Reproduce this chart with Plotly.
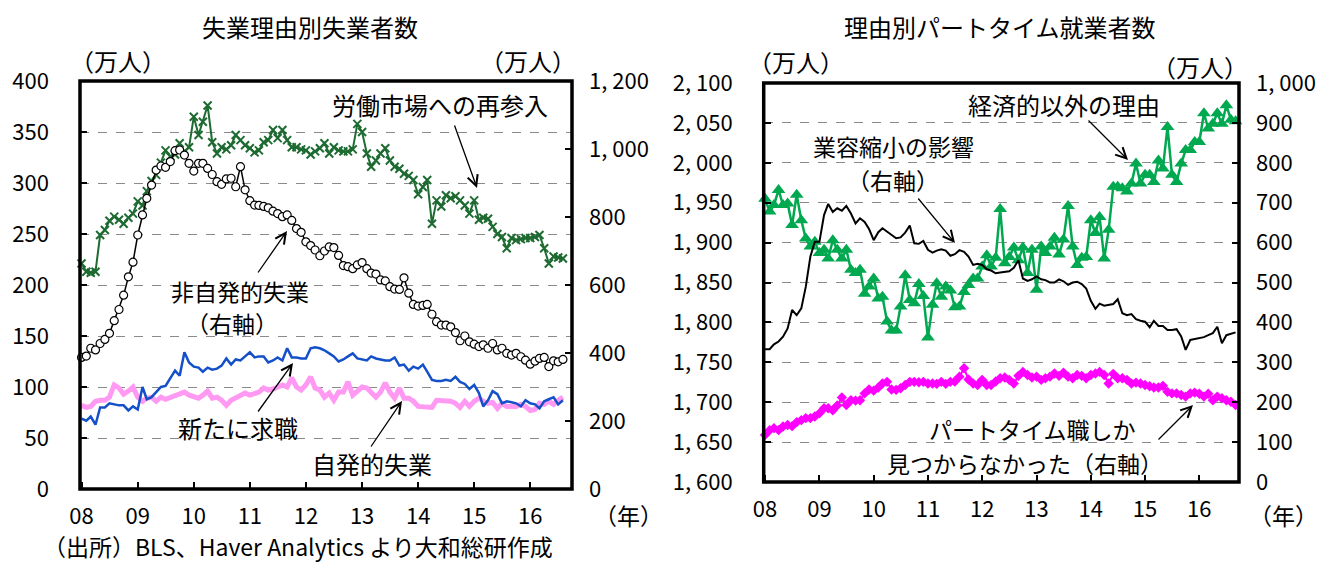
import pandas as pd
import plotly.graph_objects as go

# ---------------- data (monthly, from Jan 2008) ----------------
# Left panel: unemployed by reason (10,000 persons)
reentrants = [221, 213, 212, 213, 249, 254, 263, 267, 264, 260, 266, 270, 282, 278, 292, 302,
              308, 320, 332, 326, 328, 339, 331, 335, 365, 347, 360, 376, 340, 329, 335, 333,
              337, 347, 342, 337, 334, 330, 332, 340, 342, 352, 344, 352, 342, 335, 335, 333,
              332, 328, 331, 334, 339, 329, 335, 332, 331, 331, 333, 358, 350, 329, 316, 322,
              329, 334, 322, 316, 314, 309, 307, 303, 289, 296, 303, 260, 283, 277, 288, 285,
              287, 283, 278, 270, 283, 264, 266, 265, 257, 250, 247, 236, 246, 244, 245, 246,
              246, 247, 249, 236, 221, 228, 227, 226]
job_losers = [387, 391, 414, 409, 428, 440, 458, 495, 528, 570, 624, 667, 747, 806, 855, 894,
              938, 950, 946, 963, 995, 997, 982, 958, 935, 958, 958, 943, 925, 904, 896, 912,
              914, 889, 948, 880, 848, 835, 834, 831, 827, 817, 810, 801, 806, 790, 766, 755,
              727, 716, 703, 686, 700, 712, 710, 687, 657, 654, 648, 659, 666, 648, 635, 632,
              615, 612, 595, 588, 587, 621, 576, 543, 538, 540, 543, 514, 492, 482, 482, 477,
              460, 436, 450, 433, 426, 419, 424, 414, 428, 409, 414, 399, 394, 399, 389, 379,
              367, 376, 384, 387, 360, 377, 374, 381]
new_entrants = [69, 67, 71, 63, 80, 80, 84, 83, 82, 82, 77, 81, 78, 100, 88, 90,
                95, 100, 101, 108, 116, 111, 134, 124, 120, 119, 115, 119, 117, 118, 121, 128,
                122, 127, 126, 130, 134, 129, 130, 130, 124, 126, 129, 126, 138, 129, 129, 128,
                128, 138, 139, 138, 136, 133, 130, 125, 127, 130, 133, 128, 127, 126, 130, 128,
                127, 126, 126, 129, 121, 122, 116, 120, 118, 122, 115, 107, 106, 106, 107, 106,
                110, 105, 103, 98, 102, 94, 81, 87, 96, 93, 84, 86, 85, 84, 81, 87,
                84, 83, 79, 86, 88, 90, 83, 87]
job_leavers = [82, 80, 81, 86, 87, 87, 90, 102, 99, 93, 96, 100, 90, 86, 89, 90,
               86, 90, 88, 90, 92, 94, 95, 92, 90, 89, 92, 96, 89, 90, 87, 82,
               87, 89, 92, 94, 92, 93, 95, 99, 97, 98, 100, 102, 100, 109, 100, 97,
               102, 110, 99, 97, 90, 94, 87, 95, 95, 105, 92, 96, 100, 99, 95, 90,
               95, 104, 95, 89, 99, 89, 89, 86, 81, 81, 80, 80, 87, 87, 87, 86,
               84, 80, 86, 81, 86, 89, 86, 84, 85, 79, 84, 81, 81, 81, 83, 81,
               77, 78, 84, 83, 86, 83, 87, 90]

# Right panel: part-time workers by reason (10,000 persons)
noneconomic = [1955, 1939, 1947, 1966, 1947, 1949, 1922, 1960, 1928, 1905, 1895, 1901, 1887, 1891,
               1880, 1903, 1891, 1880, 1891, 1866, 1862, 1866, 1836, 1845, 1855, 1830, 1832, 1801,
               1790, 1790, 1820, 1859, 1828, 1824, 1848, 1833, 1781, 1822, 1849, 1832, 1845, 1840,
               1819, 1820, 1838, 1847, 1855, 1855, 1870, 1884, 1870, 1881, 1942, 1874, 1882, 1894,
               1878, 1894, 1862, 1891, 1841, 1895, 1887, 1895, 1906, 1885, 1904, 1946, 1895, 1872,
               1881, 1882, 1928, 1912, 1932, 1880, 1916, 1970, 1970, 1968, 1964, 1974, 1999, 1974,
               1985, 1985, 1976, 2003, 1993, 2045, 1985, 1976, 1999, 2016, 2016, 2026, 2026, 2062,
               2043, 2049, 2062, 2049, 2072, 2054, 2052]
slack_work = [333, 333, 345, 352, 364, 385, 431, 418, 435, 489, 565, 602, 602, 669, 697, 677,
              686, 680, 692, 673, 648, 661, 652, 634, 606, 626, 636, 628, 619, 611, 613, 625,
              643, 598, 597, 604, 582, 575, 580, 583, 580, 567, 571, 581, 577, 565, 544, 547,
              544, 533, 530, 523, 525, 527, 528, 537, 556, 510, 504, 508, 515, 508, 506, 500,
              500, 508, 503, 494, 500, 502, 496, 485, 454, 434, 447, 442, 444, 446, 458, 423,
              418, 421, 408, 404, 402, 388, 404, 391, 391, 381, 381, 383, 365, 331, 356, 358,
              360, 363, 368, 373, 389, 348, 368, 372, 375]
part_time_only = [118, 130, 135, 130, 139, 143, 140, 150, 155, 160, 160, 164, 172, 185, 185, 180,
                  192, 212, 193, 205, 204, 205, 222, 232, 229, 237, 247, 251, 232, 231, 235, 243,
                  251, 251, 250, 251, 247, 247, 246, 251, 246, 251, 252, 264, 285, 257, 247, 243,
                  256, 243, 243, 252, 260, 262, 256, 247, 266, 276, 268, 262, 264, 256, 260, 264,
                  272, 266, 274, 264, 260, 268, 266, 260, 268, 272, 276, 268, 247, 271, 260, 260,
                  256, 247, 249, 247, 243, 240, 237, 237, 241, 226, 222, 222, 218, 214, 222, 224,
                  221, 214, 221, 205, 214, 210, 205, 201, 193]

years = list(range(2008, 2017))
year_labels = [f"{y % 100:02d}" for y in years]

left_ticks = list(range(0, 401, 50))
left2_ticks = list(range(0, 1201, 200))
right_ticks = list(range(1600, 2101, 50))
right2_ticks = list(range(0, 1001, 100))


def fmt(v):
    s = f"{v:,}"
    return s.replace(",", ", ")


months_l = pd.date_range("2008-01-01", periods=len(reentrants), freq="MS")
months_r = pd.date_range("2008-01-01", periods=len(noneconomic), freq="MS")

W, H = 1326, 564
FONT = "Noto Sans CJK JP"
TEXT_SIZE = 24
TICK_SIZE = 22


def px(x):
    return x / W


def py(y):
    return 1 - y / H


fig = go.Figure()

# ---- left panel traces ----
fig.add_trace(go.Scatter(x=months_l, y=job_leavers, mode="lines",
                         line=dict(color="#FF99F2", width=5), xaxis="x", yaxis="y",
                         cliponaxis=False))
fig.add_trace(go.Scatter(x=months_l, y=new_entrants, mode="lines",
                         line=dict(color="#1450C8", width=2.5), xaxis="x", yaxis="y",
                         cliponaxis=False))
fig.add_trace(go.Scatter(x=months_l, y=job_losers, mode="lines+markers",
                         line=dict(color="black", width=1.5),
                         marker=dict(symbol="circle", size=8, color="white",
                                     line=dict(color="black", width=1.2)),
                         xaxis="x", yaxis="y2", cliponaxis=False))
fig.add_trace(go.Scatter(x=months_l, y=reentrants, mode="lines+markers",
                         line=dict(color="#1E6B32", width=2),
                         marker=dict(symbol="x-thin", size=8,
                                     line=dict(color="#1E6B32", width=2)),
                         xaxis="x", yaxis="y", cliponaxis=False))

# ---- right panel traces ----
fig.add_trace(go.Scatter(x=months_r, y=slack_work, mode="lines",
                         line=dict(color="black", width=2), xaxis="x2", yaxis="y4",
                         cliponaxis=False))
fig.add_trace(go.Scatter(x=months_r, y=noneconomic, mode="lines+markers",
                         line=dict(color="#00A84F", width=2.5),
                         marker=dict(symbol="triangle-up", size=12, color="#00A84F"),
                         xaxis="x2", yaxis="y3", cliponaxis=False))
fig.add_trace(go.Scatter(x=months_r, y=part_time_only, mode="lines+markers",
                         line=dict(color="#FF00FF", width=2),
                         marker=dict(symbol="diamond", size=8, color="#FF00FF"),
                         xaxis="x2", yaxis="y4", cliponaxis=False))

tick_font = dict(family=FONT, size=TICK_SIZE, color="black")
grid = dict(showgrid=True, gridcolor="#8A8A8A", griddash="dash", gridwidth=1.3)
common_y = dict(ticks="inside", ticklen=7, tickwidth=2, tickcolor="black",
                zeroline=False, showline=False, tickfont=tick_font, automargin=False)

xl_dom = [px(80), px(572)]
yl_dom = [py(489), py(81)]
xr_dom = [px(763.7), px(1239)]
yr_dom = [py(482), py(83)]

xtick = dict(type="date", tickvals=[f"{y}-01-01" for y in years], ticktext=year_labels,
             ticks="inside", ticklen=7, tickwidth=2, tickcolor="black",
             showgrid=False, zeroline=False, showline=False, tickfont=tick_font,
             ticklabelstandoff=12, automargin=False)

fig.update_layout(
    width=W, height=H, margin=dict(l=0, r=0, t=0, b=0, autoexpand=False),
    paper_bgcolor="white", plot_bgcolor="white", showlegend=False,
    font=dict(family=FONT, color="black"),
    xaxis=dict(domain=xl_dom, range=["2007-12-22", "2016-09-29"], anchor="y", **xtick),
    yaxis=dict(domain=yl_dom, range=[0, 400], tickvals=left_ticks,
               ticktext=[str(v) for v in left_ticks], anchor="x", side="left",
               ticklabelstandoff=30, **common_y, **grid),
    yaxis2=dict(range=[0, 1200], tickvals=left2_ticks,
                ticktext=[fmt(v) for v in left2_ticks], overlaying="y", anchor="x",
                side="right", showgrid=False, ticklabelstandoff=16, **common_y),
    xaxis2=dict(domain=xr_dom, range=["2007-12-23", "2016-09-24"], anchor="y3", **xtick),
    yaxis3=dict(domain=yr_dom, range=[1600, 2100], tickvals=right_ticks,
                ticktext=[fmt(v) for v in right_ticks], anchor="x2", side="left",
                ticklabelstandoff=30, **common_y, **grid),
    yaxis4=dict(range=[0, 1000], tickvals=right2_ticks,
                ticktext=[fmt(v) for v in right2_ticks], overlaying="y3", anchor="x2",
                side="right", showgrid=False, ticklabelstandoff=16, **common_y),
)

# frames around both plot areas
for xd, yd in ((xl_dom, yl_dom), (xr_dom, yr_dom)):
    fig.add_shape(type="rect", xref="paper", yref="paper", x0=xd[0], x1=xd[1],
                  y0=yd[0], y1=yd[1], line=dict(color="black", width=3.5), layer="above")

# text labels (text, centre x, centre y in pixels, font size)
texts = [
    ("失業理由別失業者数", 310, 27, TEXT_SIZE),
    ("理由別パートタイム就業者数", 1000, 27, TEXT_SIZE),
    ("（万人）", 118, 60, TEXT_SIZE),
    ("（万人）", 528, 60, TEXT_SIZE),
    ("（万人）", 796, 62, TEXT_SIZE),
    ("（万人）", 1200, 67, TEXT_SIZE),
    ("（年）", 628, 515, 23),
    ("（年）", 1283, 515, 23),
    ("労働市場への再参入", 440, 104, TEXT_SIZE),
    ("非自発的失業", 240, 291, 23),
    ("（右軸）", 232, 323, 23),
    ("新たに求職", 238, 427, TEXT_SIZE),
    ("自発的失業", 372, 463, TEXT_SIZE),
    ("経済的以外の理由", 1064, 104, TEXT_SIZE),
    ("業容縮小の影響", 893, 146, 23),
    ("（右軸）", 893, 180, 23),
    ("パートタイム職しか", 1032, 429, 23),
    ("見つからなかった（右軸）", 1025, 463, 23),
    ("（出所）BLS、Haver Analytics より大和総研作成", 298, 546, 23),
]
for t, x, y, s in texts:
    fig.add_annotation(text=t, x=px(x), y=py(y), xref="paper", yref="paper",
                       xanchor="center", yanchor="middle", showarrow=False,
                       font=dict(family=FONT, size=s, color="black"))

# pointer arrows: (head x, head y, tail x, tail y) in pixels
arrows = [
    (477, 188, 454, 124),
    (287, 231, 257, 274),
    (293, 363, 257, 413),
    (402, 401, 370, 448),
    (1128, 160, 1087, 119),
    (955, 243, 917, 197),
    (1193, 405, 1157, 441),
]
for hx, hy, tx, ty in arrows:
    fig.add_annotation(text="", x=px(hx), y=py(hy), xref="paper", yref="paper",
                       ax=tx - hx, ay=ty - hy, showarrow=True, arrowhead=5,
                       arrowsize=1.6, arrowwidth=1.3, arrowcolor="black")

fig.write_html("out.html")
